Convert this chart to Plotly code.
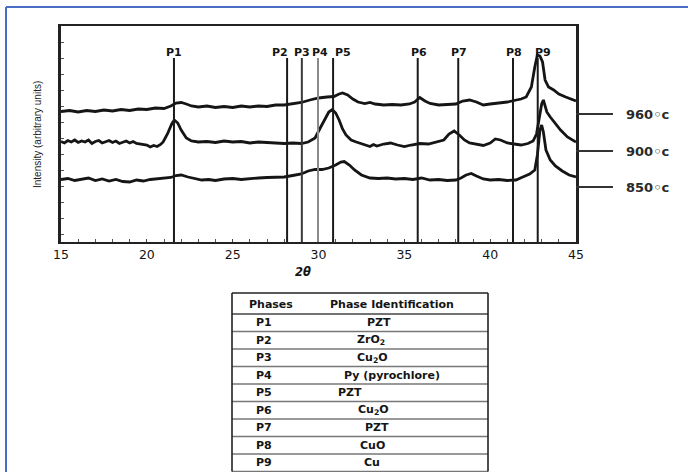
import plotly.graph_objects as go

# ---------------- data ----------------
two_theta_960 = [15.0,15.5,16.0,16.5,17.0,17.5,18.0,18.5,19.0,19.5,20.0,20.5,21.0,21.4,21.7,22.0,22.3,22.6,23.0,23.5,
                 24.0,24.5,25.0,25.5,26.0,26.5,27.0,27.5,28.0,28.5,29.0,29.5,30.0,30.5,30.9,31.2,31.4,31.7,32.0,32.3,
                 32.7,33.0,33.3,33.8,34.3,34.8,35.3,35.6,35.9,36.2,36.5,37.0,37.5,38.0,38.4,38.8,39.2,39.6,40.0,40.6,
                 41.0,41.4,41.8,42.1,42.4,42.6,42.75,42.9,43.05,43.2,43.4,43.7,44.0,44.4,44.9,45.0]
intensity_960 = [130.5,131.5,130,131.5,130.5,132,131,132.5,131.5,133,132.5,134,133.5,136,139,139.5,138,136,135,136,
                 134.5,135.5,134.5,136,135,136,135.5,137,137,138,139.5,142,144,145,145.5,148,149,147,143,140,
                 138.5,139.5,138,137,137.5,137,138,140,144.5,141,138.5,137,137.5,138,141,142,140,137,138,139,
                 140,141.5,143,145,155,175,187,186,180,162,155,152,148,145,142,141]

two_theta_900 = [15.0,15.2,15.4,15.6,15.8,16.0,16.2,16.4,16.6,16.8,17.0,17.2,17.4,17.6,17.8,18.0,18.2,18.4,18.6,18.8,
                 19.0,19.2,19.4,19.6,19.8,20.0,20.2,20.4,20.6,20.8,20.95,21.2,21.45,21.6,
                 21.8,22.0,22.3,22.6,23.0,23.5,24.0,24.5,25.0,25.5,26.0,26.5,27.0,27.5,28.0,28.5,29.0,29.4,29.8,30.1,
                 30.4,30.6,30.8,31.0,31.2,31.4,31.6,31.9,32.2,32.6,33.0,33.2,33.4,33.8,34.2,34.6,35.0,35.4,35.9,36.4,36.9,
                 37.3,37.6,37.9,38.2,38.5,38.8,39.2,39.6,40.0,40.3,40.6,41.0,41.4,41.8,42.2,42.5,42.7,42.85,43.0,43.1,
                 43.2,43.3,43.5,43.8,44.1,44.5,44.9,45.0]
intensity_900 = [100.5,99,101.5,100,102,99.5,101,100,102,98.5,100.5,101.5,99,100,101.5,99.5,101,98.5,100,101,
                 99,100.5,98.5,98,97.5,97,95,96.5,95.5,97.5,100,108,118,122,
                 119,112,104,101,100,100.5,99.5,101,100,100.5,99,100,99.5,99,98.5,99,98.5,100,104,114,
                 124,130,132.5,129,122,113,107,102,100,98,95.5,97.5,96,98,99,97,95.5,97,98.5,98,100,
                 102,108,111,107,102,99,98,96.5,99,103,102,99,98,97,98.5,101,108,124,138,142,
                 136,130,125,118,112,105,100.5,100]

two_theta_850 = [15.0,15.4,15.8,16.2,16.6,17.0,17.4,17.8,18.2,18.6,19.0,19.4,19.8,20.2,20.6,21.0,21.4,21.7,22.0,22.4,
                 22.8,23.2,23.6,24.0,24.5,25.0,25.5,26.0,26.5,27.0,27.5,28.0,28.5,29.0,29.4,29.8,30.2,30.6,31.0,31.3,
                 31.5,31.8,32.1,32.5,33.0,33.5,34.0,34.5,35.0,35.5,36.0,36.5,37.0,37.5,38.0,38.3,38.6,38.9,39.2,39.6,
                 40.0,40.5,41.0,41.5,41.9,42.3,42.6,42.75,42.9,43.0,43.1,43.25,43.5,43.8,44.2,44.6,45.0]
intensity_850 = [62.5,63.5,61.5,63,64,61.5,63,61,62.5,60.5,60,62,61,62.5,63,63.5,64.5,66.5,67,65,
                 63.5,62,62.5,61.5,63,63.5,62.5,63.5,64,64.5,65,65,66.5,68,71,72.5,72.5,74,77,80,
                 80.5,77,72,67,64,63.5,64,63,63.5,62.5,64,62,62.5,61.5,62,64,67,68.5,66,63,
                 62,62.5,61.5,62,65,68,72,87,112,117,110,92,82,76,71,67,65]

curve_labels = ["960◦c", "900◦c", "850◦c"]
curve_label_levels = [128, 91, 55]

peak_names = ["P1", "P2", "P3", "P4", "P5", "P6", "P7", "P8", "P9"]
peak_positions = [21.58, 28.17, 29.03, 29.97, 30.85, 35.78, 38.14, 41.33, 42.77]

x_tick_values = [15, 20, 25, 30, 35, 40, 45]
x_tick_labels = ["15", "20", "25", "30", "35", "40", "45"]

phases = ["P1", "P2", "P3", "P4", "P5", "P6", "P7", "P8", "P9"]
identifications = ["PZT", "ZrO<sub>2</sub>", "Cu<sub>2</sub>O", "Py (pyrochlore)", "PZT",
                   "Cu<sub>2</sub>O", "PZT", "CuO", "Cu"]

# ---------------- layout helpers (pixel -> paper) ----------------
W, H = 688, 472
PL, PR, PT, PB = 61, 576, 26, 242
def fx(px):
    return (px - PL) / (PR - PL)
def fy(py):
    return (PB - py) / (PB - PT)

BOLD = "DejaVu Sans"
INK = "#151515"

fig = go.Figure()
for xs, ys in [(two_theta_960, intensity_960), (two_theta_900, intensity_900), (two_theta_850, intensity_850)]:
    fig.add_trace(go.Scatter(x=xs, y=ys, mode="lines", line=dict(color=INK, width=2.8),
                             showlegend=False, hoverinfo="skip"))

shapes = []
annotations = []

def note(x, y, text, size, xref="paper", yref="paper", xanchor="center", color=INK, family=BOLD, **kw):
    d = dict(x=x, y=y, xref=xref, yref=yref, text=text, showarrow=False, xanchor=xanchor, yanchor="middle",
             font=dict(family=family, size=size, color=color))
    d.update(kw)
    annotations.append(d)

# peak marker lines and labels
line_colors = ["#1a1a1a", "#1a1a1a", "#3a3a3a", "#8a8a8a", "#1a1a1a", "#1a1a1a", "#1a1a1a", "#1a1a1a", "#1a1a1a"]
label_shift = [0, -7, 0, 2, 10, 1, 1, 1, 5]
for name, pos, col, sh in zip(peak_names, peak_positions, line_colors, label_shift):
    shapes.append(dict(type="line", xref="x", yref="y", x0=pos, x1=pos, y0=0, y1=184,
                       line=dict(color=col, width=2), layer="above"))
    note(pos, 190, "<b>%s</b>" % name, 11, xref="x", yref="y", xshift=sh)

# curve label leader lines and texts
for lab, lev in zip(curve_labels, curve_label_levels):
    shapes.append(dict(type="line", xref="paper", yref="y", x0=1.0, x1=fx(613), y0=lev, y1=lev,
                       line=dict(color="#333", width=2)))
    note(fx(624), lev, "<b>%s</b>" % lab, 13, yref="y", xanchor="left", color="#2a2a2a")

# axis titles
note(fx(37), fy(135), "Intensity (arbitrary units)", 10, textangle=-90, color="#1e1e1e",
     family="Liberation Sans Narrow, Liberation Sans")
note(fx(303), fy(272), "<b><i>2θ</i></b>", 11.5)

# table
TL, TR, TT, HB, RH = 232, 488, 293, 314, 17.5
shapes.append(dict(type="line", xref="paper", yref="paper", x0=fx(TL), x1=fx(TR), y0=fy(TT), y1=fy(TT),
                   line=dict(color="#222", width=1.6)))
shapes.append(dict(type="line", xref="paper", yref="paper", x0=fx(TL), x1=fx(TR), y0=fy(HB), y1=fy(HB),
                   line=dict(color="#444", width=1.5)))
nrows = len(phases)
bottom = HB + RH * nrows
for k in range(1, nrows + 1):
    yy = HB + RH * k
    shapes.append(dict(type="line", xref="paper", yref="paper", x0=fx(TL), x1=fx(TR), y0=fy(yy), y1=fy(yy),
                       line=dict(color="#777", width=1.3)))
for xx in (TL, TR):
    shapes.append(dict(type="line", xref="paper", yref="paper", x0=fx(xx), x1=fx(xx), y0=fy(TT), y1=fy(bottom),
                       line=dict(color="#222", width=1.6)))
note(fx(271), fy(304), "<b>Phases</b>", 11)
note(fx(392), fy(304), "<b>Phase Identification</b>", 11)
ident_x = [379, 371, 372, 392, 350, 373, 377, 372, 372]
for k, (ph, ident, ix) in enumerate(zip(phases, identifications, ident_x)):
    yc = HB + RH * (k + 0.5)
    note(fx(254), fy(yc), "<b>%s</b>" % ph, 11, xanchor="left")
    note(fx(ix), fy(yc), "<b>%s</b>" % ident, 11)

# blue frame (left and top)
shapes.append(dict(type="line", xref="paper", yref="paper", x0=fx(6), x1=fx(6), y0=fy(7), y1=fy(472),
                   line=dict(color="#4a6cc4", width=2)))
shapes.append(dict(type="line", xref="paper", yref="paper", x0=fx(6), x1=fx(688), y0=fy(7), y1=fy(7),
                   line=dict(color="#4a6cc4", width=2)))

fig.update_layout(
    width=W, height=H,
    margin=dict(l=PL, r=W - PR, t=PT, b=H - PB, pad=0),
    paper_bgcolor="white", plot_bgcolor="white",
    shapes=shapes, annotations=annotations,
    xaxis=dict(range=[15, 45], tickvals=x_tick_values, ticktext=x_tick_labels,
               ticks="inside", ticklen=3, tickcolor="#444", showgrid=False, zeroline=False,
               showline=True, linecolor="#222", linewidth=2, mirror=True,
               minor=dict(dtick=1, ticks="inside", ticklen=3, tickcolor="#555"),
               tickfont=dict(family=BOLD, size=12.5, color=INK)),
    yaxis=dict(range=[0, 216], tickvals=list(range(8, 216, 16)), ticks="inside", ticklen=3, tickcolor="#555",
               showticklabels=False, showgrid=False, zeroline=False,
               showline=True, linecolor="#222", linewidth=2.6, mirror=True),
)

fig.write_html("out.html", config={"displayModeBar": False},
               post_script="document.body.style.margin='0';document.body.style.overflow='hidden';")
